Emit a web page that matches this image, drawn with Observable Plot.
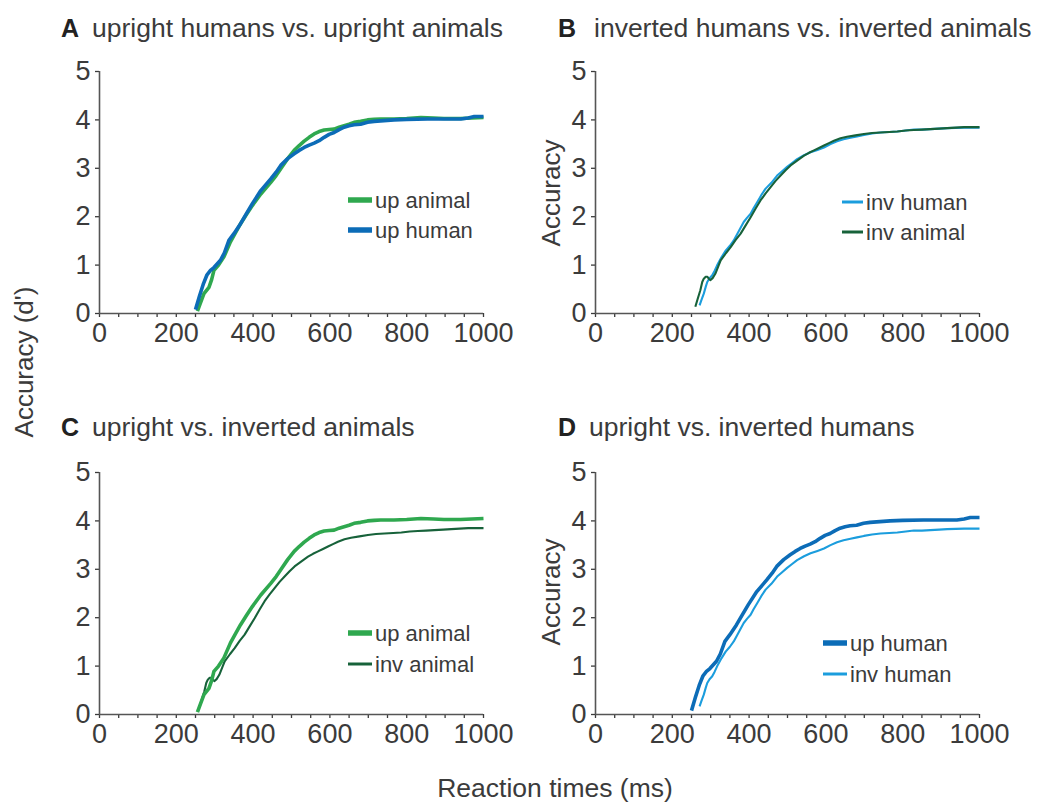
<!DOCTYPE html>
<html>
<head>
<meta charset="utf-8">
<script src="https://cdn.jsdelivr.net/npm/d3@7"></script>
<script src="https://cdn.jsdelivr.net/npm/@observablehq/plot@0.6"></script>
<style>
  html, body { margin: 0; padding: 0; background: #fff; }
  #fig { position: relative; width: 1046px; height: 802px; overflow: hidden; font-family: "Liberation Sans", Arial, sans-serif; }
  .panel { position: absolute; }
  #overlay { position: absolute; left: 0; top: 0; pointer-events: none; }
</style>
</head>
<body>
<div id="fig"></div>
<script>
// ---- data: [reaction time (ms), accuracy d'] ----
const upAnimal = [[255,0.05],[262,0.2],[272,0.41],[285,0.54],[292,0.7],[298,0.89],[310,1.0],[324,1.17],[341,1.48],[355,1.68],[367,1.85],[383,2.05],[398,2.23],[420,2.47],[446,2.71],[460,2.85],[472,2.99],[490,3.2],[507,3.37],[520,3.47],[533,3.56],[546,3.64],[559,3.71],[572,3.76],[585,3.79],[598,3.8],[611,3.81],[624,3.85],[637,3.88],[650,3.91],[663,3.95],[680,3.97],[698,4.0],[715,4.01],[732,4.02],[767,4.02],[800,4.03],[837,4.05],[870,4.04],[897,4.03],[940,4.03],[970,4.04],[1000,4.05]];
const upHuman = [[250,0.08],[260,0.35],[270,0.6],[280,0.8],[289,0.89],[298,0.95],[315,1.1],[325,1.25],[337,1.51],[350,1.65],[367,1.85],[383,2.07],[398,2.27],[420,2.54],[446,2.78],[460,2.92],[472,3.06],[490,3.2],[507,3.3],[520,3.37],[533,3.43],[546,3.48],[559,3.52],[572,3.57],[585,3.64],[598,3.7],[611,3.74],[624,3.8],[637,3.85],[650,3.88],[663,3.9],[680,3.91],[698,3.95],[715,3.97],[732,3.98],[767,4.0],[800,4.01],[854,4.02],[900,4.02],[941,4.02],[960,4.04],[976,4.07],[1000,4.07]];
const invAnimal = [[260,0.14],[266,0.3],[273,0.48],[278,0.65],[282,0.72],[287,0.76],[291,0.76],[295,0.72],[299,0.69],[305,0.73],[312,0.82],[320,0.98],[326,1.1],[340,1.25],[352,1.37],[365,1.52],[378,1.65],[391,1.82],[404,1.99],[417,2.17],[430,2.34],[443,2.48],[456,2.61],[469,2.74],[482,2.85],[495,2.96],[508,3.06],[525,3.16],[543,3.26],[556,3.32],[569,3.37],[582,3.42],[595,3.47],[608,3.52],[621,3.57],[638,3.62],[655,3.65],[677,3.68],[699,3.71],[720,3.73],[742,3.74],[765,3.75],[786,3.76],[808,3.78],[829,3.79],[850,3.8],[872,3.81],[895,3.82],[916,3.83],[960,3.85],[1000,3.85]];
const invHuman = [[271,0.17],[276,0.28],[282,0.41],[287,0.55],[291,0.65],[297,0.73],[304,0.79],[310,0.88],[317,1.0],[328,1.16],[339,1.3],[350,1.4],[360,1.51],[373,1.7],[386,1.89],[395,1.98],[404,2.06],[412,2.18],[421,2.3],[432,2.45],[443,2.58],[458,2.7],[473,2.85],[486,2.94],[499,3.03],[512,3.11],[525,3.19],[543,3.27],[560,3.33],[578,3.38],[595,3.43],[612,3.5],[629,3.56],[646,3.6],[664,3.63],[681,3.66],[699,3.69],[720,3.72],[742,3.74],[765,3.75],[786,3.76],[808,3.78],[829,3.8],[850,3.8],[872,3.81],[895,3.82],[916,3.83],[960,3.84],[1000,3.84]];

const xTickMarks = [0,50,100,150,200,250,300,350,400,450,500,550,600,650,700,750,800,850,900,950,1000];
const xTickLabels = [0,200,400,600,800,1000];
const yTicks = [0,1,2,3,4,5];

const seriesData = {"up animal": upAnimal, "up human": upHuman, "inv human": invHuman, "inv animal": invAnimal};
const panelLetters = ["A", "B", "C", "D"];
const panelTitles = ["upright humans vs. upright animals", "inverted humans vs. inverted animals", "upright vs. inverted animals", "upright vs. inverted humans"];
const panelLegend = [["up animal","up human"],["inv human","inv animal"],["up animal","inv animal"],["up human","inv human"]];
const panelDrawOrder = [["up animal","up human"],["inv human","inv animal"],["inv animal","up animal"],["inv human","up human"]];
const panelThick = [["up animal","up human"],[],["up animal"],["up human"]];
const panelYLabel = [null, "Accuracy", null, "Accuracy"];
const figYLabel = "Accuracy (d')";
const figXLabel = "Reaction times (ms)";

// ---- styles ----
const colors = {"up animal": "#2fa84f", "up human": "#0c6cb7", "inv human": "#1b9ddd", "inv animal": "#17623a"};
const FONT = '"Liberation Sans", Arial, sans-serif';
const TXT = "#3b3b3b";
const layout = [
  {left: 60, top: 50, width: 460, mr: 37},
  {left: 556, top: 50, width: 490, mr: 67},
  {left: 60, top: 451, width: 460, mr: 37},
  {left: 556, top: 451, width: 490, mr: 67}
];
const ML = 39, MT = 21, MB = 40, PH = 242;

const fig = document.getElementById("fig");

layout.forEach((L, i) => {
  const thick = panelThick[i];
  const rows = [];
  panelDrawOrder[i].forEach(name => seriesData[name].forEach(([rt, d]) => rows.push({name, rt, d})));
  const chart = Plot.plot({
    width: L.width,
    height: MT + PH + MB,
    marginLeft: ML, marginRight: L.mr, marginTop: MT, marginBottom: MB,
    x: {domain: [0, 1000]},
    y: {domain: [0, 5]},
    style: {fontFamily: FONT, fontSize: "27px", color: TXT, background: "transparent", overflow: "visible"},
    marks: [
      Plot.axisX({ticks: xTickMarks, tickFormat: d => xTickLabels.includes(d) ? String(d) : "", tickSize: 4, tickPadding: 5, label: null, strokeWidth: 1.3}),
      Plot.axisY({ticks: yTicks, tickFormat: d => String(d), tickSize: 4, tickPadding: 5, label: null, strokeWidth: 1.3}),
      Plot.ruleX([0], {stroke: "#555", strokeWidth: 1.6}),
      Plot.ruleY([0], {stroke: "#555", strokeWidth: 1.6}),
      ...panelDrawOrder[i].map(name => Plot.line(rows.filter(r => r.name === name), {
        x: "rt", y: "d", stroke: colors[name],
        strokeWidth: thick.includes(name) ? 3.6 : 2.1,
        strokeLinejoin: "round", strokeLinecap: "butt"
      }))
    ]
  });
  chart.classList.add("panel");
  chart.style.left = L.left + "px";
  chart.style.top = L.top + "px";
  fig.appendChild(chart);
});

// ---- overlay: titles, axis labels, legends ----
const svg = d3.select(fig).append("svg").attr("id", "overlay").attr("width", 1046).attr("height", 802)
  .style("font-family", FONT);

const titlePos = [{lx: 61, tx: 92, y: 37}, {lx: 558, tx: 594, y: 37}, {lx: 61, tx: 92, y: 436}, {lx: 558, tx: 589, y: 436}];
titlePos.forEach((p, i) => {
  svg.append("text").attr("x", p.lx).attr("y", p.y).attr("font-size", 25).attr("font-weight", "bold").attr("fill", "#222").text(panelLetters[i]);
  svg.append("text").attr("x", p.tx).attr("y", p.y).attr("font-size", 26.5).attr("fill", TXT).text(panelTitles[i]);
});

const legendPos = [{x0: 348, x1: 372, tx: 375, y: [200, 230]}, {x0: 842, x1: 863, tx: 866, y: [202, 232]},
                   {x0: 348, x1: 372, tx: 375, y: [633, 664]}, {x0: 823, x1: 847, tx: 850, y: [643, 674]}];
legendPos.forEach((p, i) => {
  panelLegend[i].forEach((name, j) => {
    const th = panelThick[i].includes(name);
    svg.append("line").attr("x1", p.x0).attr("x2", p.x1).attr("y1", p.y[j]).attr("y2", p.y[j])
      .attr("stroke", colors[name]).attr("stroke-width", th ? 5.5 : 3);
    svg.append("text").attr("x", p.tx).attr("y", p.y[j]).attr("dy", "0.35em").attr("font-size", 22).attr("fill", TXT).text(name);
  });
});

svg.append("text").attr("transform", "translate(33,362) rotate(-90)").attr("text-anchor", "middle").attr("font-size", 26).attr("fill", TXT).text(figYLabel);
[[560, 193], [560, 592]].forEach(([x, y], k) => {
  const lab = panelYLabel[k * 2 + 1];
  svg.append("text").attr("transform", `translate(${x},${y}) rotate(-90)`).attr("text-anchor", "middle").attr("font-size", 26).attr("fill", TXT).text(lab);
});
svg.append("text").attr("x", 555).attr("y", 797).attr("text-anchor", "middle").attr("font-size", 26.5).attr("fill", TXT).text(figXLabel);
</script>
</body>
</html>
